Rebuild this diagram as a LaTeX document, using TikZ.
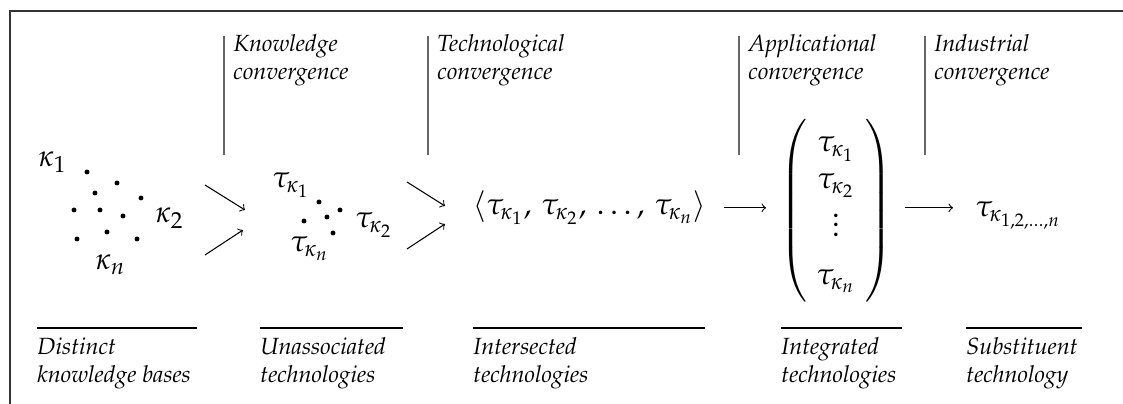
\documentclass[tikz,border=0pt]{standalone}
\usepackage[T1]{fontenc}
\usepackage{amsmath}
\usepackage{mathpazo}
\usetikzlibrary{positioning}

% fixed row height for the stacked technologies
\newcommand{\rowstrut}{\rule[-4.8pt]{0pt}{15.8pt}}

\begin{document}
\begin{tikzpicture}[
x=0.15mm, y=-0.15mm,
conv/.style={anchor=north west, inner sep=0pt, align=left, font=\itshape},
stage/.style={conv},
sym/.style={anchor=base west, inner sep=0pt, font=\fontsize{13}{15.6}\selectfont},
bar/.style={line width=0.9pt, draw=black!60},
rule/.style={line width=0.45pt},
arrow/.style={->, line width=0.45pt},
dot/.style={circle, fill, inner sep=0pt, minimum size=2.1pt}
]

\useasboundingbox (0,0) rectangle (1123,404);

% open frame
\draw[line width=0.7pt, black!80] (10,404) -- (10,11) -- (1123,11);

% convergence steps on top
\foreach \x/\name/\txt in {224/know/Knowledge, 428/tech/Technological, 739/appl/Applicational, 925/indu/Industrial} {
  \draw[bar] (\x,36) -- (\x,155);
  \node[conv] (\name) at (\x+9,34) {\txt\\convergence};
}

% stages below
\foreach \x/\y/\name/\txt in {37/197/bases/{Distinct\\knowledge bases}, 260/403/unass/{Unassociated\\technologies}, 473/705/inters/{Intersected\\technologies}, 781/902/integ/{Integrated\\technologies}, 966/1082/subst/{Substituent\\technology}} {
  \draw[rule] (\x,328) -- (\y,328);
  \node[stage] (\name-lbl) at (\x,337) {\txt};
}

% distinct knowledge bases
\node[sym] (k1) at (38,167) {$\kappa_1$};
\node[sym] (k2) at (155,223) {$\kappa_2$};
\node[sym] (kn) at (95,270) {$\kappa_n$};
\foreach \p in {(87,172), (117,183), (95,193), (141,198), (74,210), (100,210), (123,216), (107,232), (77,239), (137,239)}
  \node[dot] at \p {};

% unassociated technologies
\node[sym] (t1) at (272,188) {$\tau_{\kappa_1}$};
\node[sym] (t2) at (355,228) {$\tau_{\kappa_2}$};
\node[sym] (tn) at (290,252) {$\tau_{\kappa_n}$};
\foreach \p in {(319,202), (340,210), (327,217), (304,221), (333,233)}
  \node[dot] at \p {};

% intersected, integrated, substituent
\node[sym] (inter) at (473,215) {$\langle\tau_{\kappa_1},\,\tau_{\kappa_2},\,\dots,\,\tau_{\kappa_n}\rangle$};
\node[sym, anchor=center] (integ) at (836,211) {\delimiterfactor=1001 \delimitershortfall=-1pt
  $\left(\hspace{4pt}\begin{matrix}\rowstrut\tau_{\kappa_1}\\\rowstrut\tau_{\kappa_2}\\\vdots\\[5pt]\rowstrut\tau_{\kappa_n}\end{matrix}\hspace{4pt}\right)$};
\node[sym] (subst) at (975,217) {$\tau_{\kappa_{1,2,\dots,n}}$};

% converging arrows
\coordinate (kb-a) at (205,185);
\coordinate (kb-b) at (205,255);
\coordinate (kb-c) at (245,210);
\coordinate (kb-d) at (243,230);
\coordinate (ut-a) at (407,182);
\coordinate (ut-b) at (407,249);
\coordinate (ut-c) at (445,206);
\coordinate (ut-d) at (445,224);

\draw[arrow] (kb-a) -- (kb-c);
\draw[arrow] (kb-b) -- (kb-d);
\draw[arrow] (ut-a) -- (ut-c);
\draw[arrow] (ut-b) -- (ut-d);

\draw[arrow, shorten <=2.5mm, shorten >=2mm] (inter.east) -- (integ.west |- inter.east);
\draw[arrow, shorten <=1.9mm, shorten >=3.3mm] (integ.east |- inter.east) -- (subst.west |- inter.east);

\end{tikzpicture}
\end{document}
